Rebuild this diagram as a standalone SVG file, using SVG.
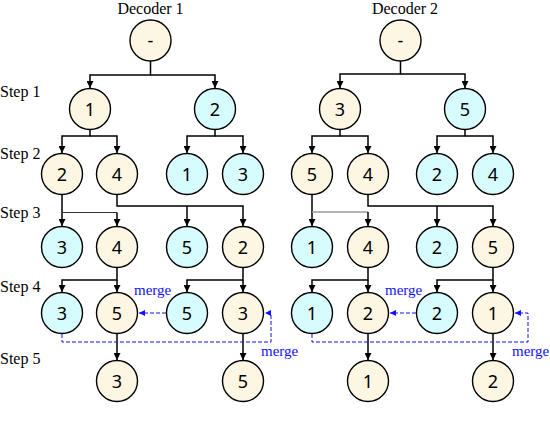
<svg xmlns="http://www.w3.org/2000/svg" width="550" height="438" viewBox="0 0 550 438">
<style>
.n{stroke:#000;stroke-width:1.4}
.cr{fill:#FCF6E2}
.cy{fill:#D7FCFD}
.t{font-family:"Noto Sans","DejaVu Sans",sans-serif;font-size:18px;text-anchor:middle;fill:#000}
.lbl{font-family:"Liberation Serif","Times New Roman",serif;font-size:16px;fill:#000}
.mg{font-family:"Liberation Serif","Times New Roman",serif;font-size:15px;fill:#1010FF}
.c{fill:none;stroke:#000;stroke-width:1.5}
.th{fill:none;stroke:#333;stroke-width:1}
.th2{fill:none;stroke:#999;stroke-width:1.3}
.m{fill:none;stroke:#1010FF;stroke-width:1;stroke-dasharray:4,2}
</style>
<defs>
<marker id="ah" viewBox="0 0 8 8" refX="8" refY="4" markerWidth="7" markerHeight="7" markerUnits="userSpaceOnUse" orient="auto"><path d="M0,0 L8,4 L0,8 z" fill="#000"/></marker>
<marker id="bh" viewBox="0 0 8 8" refX="8" refY="4" markerWidth="6" markerHeight="6" markerUnits="userSpaceOnUse" orient="auto"><path d="M0,0 L8,4 L0,8 z" fill="#1010FF"/></marker>
</defs>

<g id="labels">
<text class="lbl" x="150.5" y="14" text-anchor="middle">Decoder 1</text>
<text class="lbl" x="405" y="14" text-anchor="middle">Decoder 2</text>
<text class="lbl" x="0" y="97">Step 1</text>
<text class="lbl" x="0" y="159">Step 2</text>
<text class="lbl" x="0" y="218">Step 3</text>
<text class="lbl" x="0" y="292">Step 4</text>
<text class="lbl" x="0" y="364">Step 5</text>
</g>

<g id="connectors">
<!-- Decoder 1 -->
<path class="c" d="M150.5,61 V75 H90 V88" marker-end="url(#ah)"/>
<path class="c" d="M150.5,75 H215 V88" marker-end="url(#ah)"/>
<path class="c" d="M90,130 V136 H62 V153" marker-end="url(#ah)"/>
<path class="c" d="M90,136 H117 V153" marker-end="url(#ah)"/>
<path class="c" d="M215,130 V136 H187 V153" marker-end="url(#ah)"/>
<path class="c" d="M215,136 H243 V153" marker-end="url(#ah)"/>
<path class="c" d="M62,195 V226" marker-end="url(#ah)"/>
<path class="th" d="M62,212.5 H117"/>
<path class="c" d="M117,212.5 V226" marker-end="url(#ah)"/>
<path class="c" d="M117,195 V206 H243 V226" marker-end="url(#ah)"/>
<path class="c" d="M187,206 V226" marker-end="url(#ah)"/>
<path class="c" d="M117,268 V280 H62 V292" marker-end="url(#ah)"/>
<path class="c" d="M117,280 V292" marker-end="url(#ah)"/>
<path class="c" d="M243,268 V280 H187 V292" marker-end="url(#ah)"/>
<path class="c" d="M243,280 V292" marker-end="url(#ah)"/>
<path class="c" d="M117,334 V360" marker-end="url(#ah)"/>
<path class="c" d="M243,334 V360" marker-end="url(#ah)"/>
<!-- Decoder 2 -->
<path class="c" d="M400.5,61 V74 H340 V88" marker-end="url(#ah)"/>
<path class="c" d="M400.5,74 H465 V88" marker-end="url(#ah)"/>
<path class="c" d="M340,130 V136 H312 V153" marker-end="url(#ah)"/>
<path class="c" d="M340,136 H368 V153" marker-end="url(#ah)"/>
<path class="c" d="M465,130 V136 H437 V153" marker-end="url(#ah)"/>
<path class="c" d="M465,136 H493 V153" marker-end="url(#ah)"/>
<path class="c" d="M312,195 V226" marker-end="url(#ah)"/>
<path class="th2" d="M312,212 H368"/>
<path class="c" d="M368,212 V226" marker-end="url(#ah)"/>
<path class="c" d="M368,195 V206 H493 V226" marker-end="url(#ah)"/>
<path class="c" d="M437,206 V226" marker-end="url(#ah)"/>
<path class="c" d="M368,268 V280 H312 V292" marker-end="url(#ah)"/>
<path class="c" d="M368,280 V292" marker-end="url(#ah)"/>
<path class="c" d="M493,268 V280 H437 V292" marker-end="url(#ah)"/>
<path class="c" d="M493,280 V292" marker-end="url(#ah)"/>
<path class="c" d="M368,334 V360" marker-end="url(#ah)"/>
<path class="c" d="M493,334 V360" marker-end="url(#ah)"/>
<!-- merges -->
<path class="m" d="M166,313 H139" marker-end="url(#bh)"/>
<path class="m" d="M62,334 V342 H271 V313 H265" marker-end="url(#bh)"/>
<path class="m" d="M416,313 H390" marker-end="url(#bh)"/>
<path class="m" d="M312,334 V342 H528 V313 H515" marker-end="url(#bh)"/>
<text class="mg" x="134" y="295">merge</text>
<text class="mg" x="261" y="356">merge</text>
<text class="mg" x="385" y="295">merge</text>
<text class="mg" x="512" y="356">merge</text>
</g>

<g id="d1-root"><circle class="n cr" cx="150.5" cy="40.5" r="20.5"/><text class="t" x="150.5" y="47">-</text></g>
<g id="d1-s1-1"><circle class="n cr" cx="90" cy="109" r="20.5"/><text class="t" x="90" y="115.5">1</text></g>
<g id="d1-s1-2"><circle class="n cy" cx="215" cy="109" r="20.5"/><text class="t" x="215" y="115.5">2</text></g>
<g id="d1-s2-2"><circle class="n cr" cx="62" cy="174" r="20.5"/><text class="t" x="62" y="180.5">2</text></g>
<g id="d1-s2-4"><circle class="n cr" cx="117" cy="174" r="20.5"/><text class="t" x="117" y="180.5">4</text></g>
<g id="d1-s2-1"><circle class="n cy" cx="187" cy="174" r="20.5"/><text class="t" x="187" y="180.5">1</text></g>
<g id="d1-s2-3"><circle class="n cy" cx="243" cy="174" r="20.5"/><text class="t" x="243" y="180.5">3</text></g>
<g id="d1-s3-3"><circle class="n cy" cx="62" cy="247" r="20.5"/><text class="t" x="62" y="253.5">3</text></g>
<g id="d1-s3-4"><circle class="n cr" cx="117" cy="247" r="20.5"/><text class="t" x="117" y="253.5">4</text></g>
<g id="d1-s3-5"><circle class="n cy" cx="187" cy="247" r="20.5"/><text class="t" x="187" y="253.5">5</text></g>
<g id="d1-s3-2"><circle class="n cr" cx="243" cy="247" r="20.5"/><text class="t" x="243" y="253.5">2</text></g>
<g id="d1-s4-3"><circle class="n cy" cx="62" cy="313" r="20.5"/><text class="t" x="62" y="319.5">3</text></g>
<g id="d1-s4-5"><circle class="n cr" cx="117" cy="313" r="20.5"/><text class="t" x="117" y="319.5">5</text></g>
<g id="d1-s4-5b"><circle class="n cy" cx="187" cy="313" r="20.5"/><text class="t" x="187" y="319.5">5</text></g>
<g id="d1-s4-3b"><circle class="n cr" cx="243" cy="313" r="20.5"/><text class="t" x="243" y="319.5">3</text></g>
<g id="d1-s5-3"><circle class="n cr" cx="117" cy="381" r="20.5"/><text class="t" x="117" y="387.5">3</text></g>
<g id="d1-s5-5"><circle class="n cr" cx="243" cy="381" r="20.5"/><text class="t" x="243" y="387.5">5</text></g>

<g id="d2-root"><circle class="n cr" cx="400.5" cy="40.5" r="20.5"/><text class="t" x="400.5" y="47">-</text></g>
<g id="d2-s1-3"><circle class="n cr" cx="340" cy="109" r="20.5"/><text class="t" x="340" y="115.5">3</text></g>
<g id="d2-s1-5"><circle class="n cy" cx="465" cy="109" r="20.5"/><text class="t" x="465" y="115.5">5</text></g>
<g id="d2-s2-5"><circle class="n cr" cx="312" cy="174" r="20.5"/><text class="t" x="312" y="180.5">5</text></g>
<g id="d2-s2-4"><circle class="n cr" cx="368" cy="174" r="20.5"/><text class="t" x="368" y="180.5">4</text></g>
<g id="d2-s2-2"><circle class="n cy" cx="437" cy="174" r="20.5"/><text class="t" x="437" y="180.5">2</text></g>
<g id="d2-s2-4b"><circle class="n cy" cx="493" cy="174" r="20.5"/><text class="t" x="493" y="180.5">4</text></g>
<g id="d2-s3-1"><circle class="n cy" cx="312" cy="247" r="20.5"/><text class="t" x="312" y="253.5">1</text></g>
<g id="d2-s3-4"><circle class="n cr" cx="368" cy="247" r="20.5"/><text class="t" x="368" y="253.5">4</text></g>
<g id="d2-s3-2"><circle class="n cy" cx="437" cy="247" r="20.5"/><text class="t" x="437" y="253.5">2</text></g>
<g id="d2-s3-5"><circle class="n cr" cx="493" cy="247" r="20.5"/><text class="t" x="493" y="253.5">5</text></g>
<g id="d2-s4-1"><circle class="n cy" cx="312" cy="313" r="20.5"/><text class="t" x="312" y="319.5">1</text></g>
<g id="d2-s4-2"><circle class="n cr" cx="368" cy="313" r="20.5"/><text class="t" x="368" y="319.5">2</text></g>
<g id="d2-s4-2b"><circle class="n cy" cx="437" cy="313" r="20.5"/><text class="t" x="437" y="319.5">2</text></g>
<g id="d2-s4-1b"><circle class="n cr" cx="493" cy="313" r="20.5"/><text class="t" x="493" y="319.5">1</text></g>
<g id="d2-s5-1"><circle class="n cr" cx="368" cy="381" r="20.5"/><text class="t" x="368" y="387.5">1</text></g>
<g id="d2-s5-2"><circle class="n cr" cx="493" cy="381" r="20.5"/><text class="t" x="493" y="387.5">2</text></g>
</svg>
